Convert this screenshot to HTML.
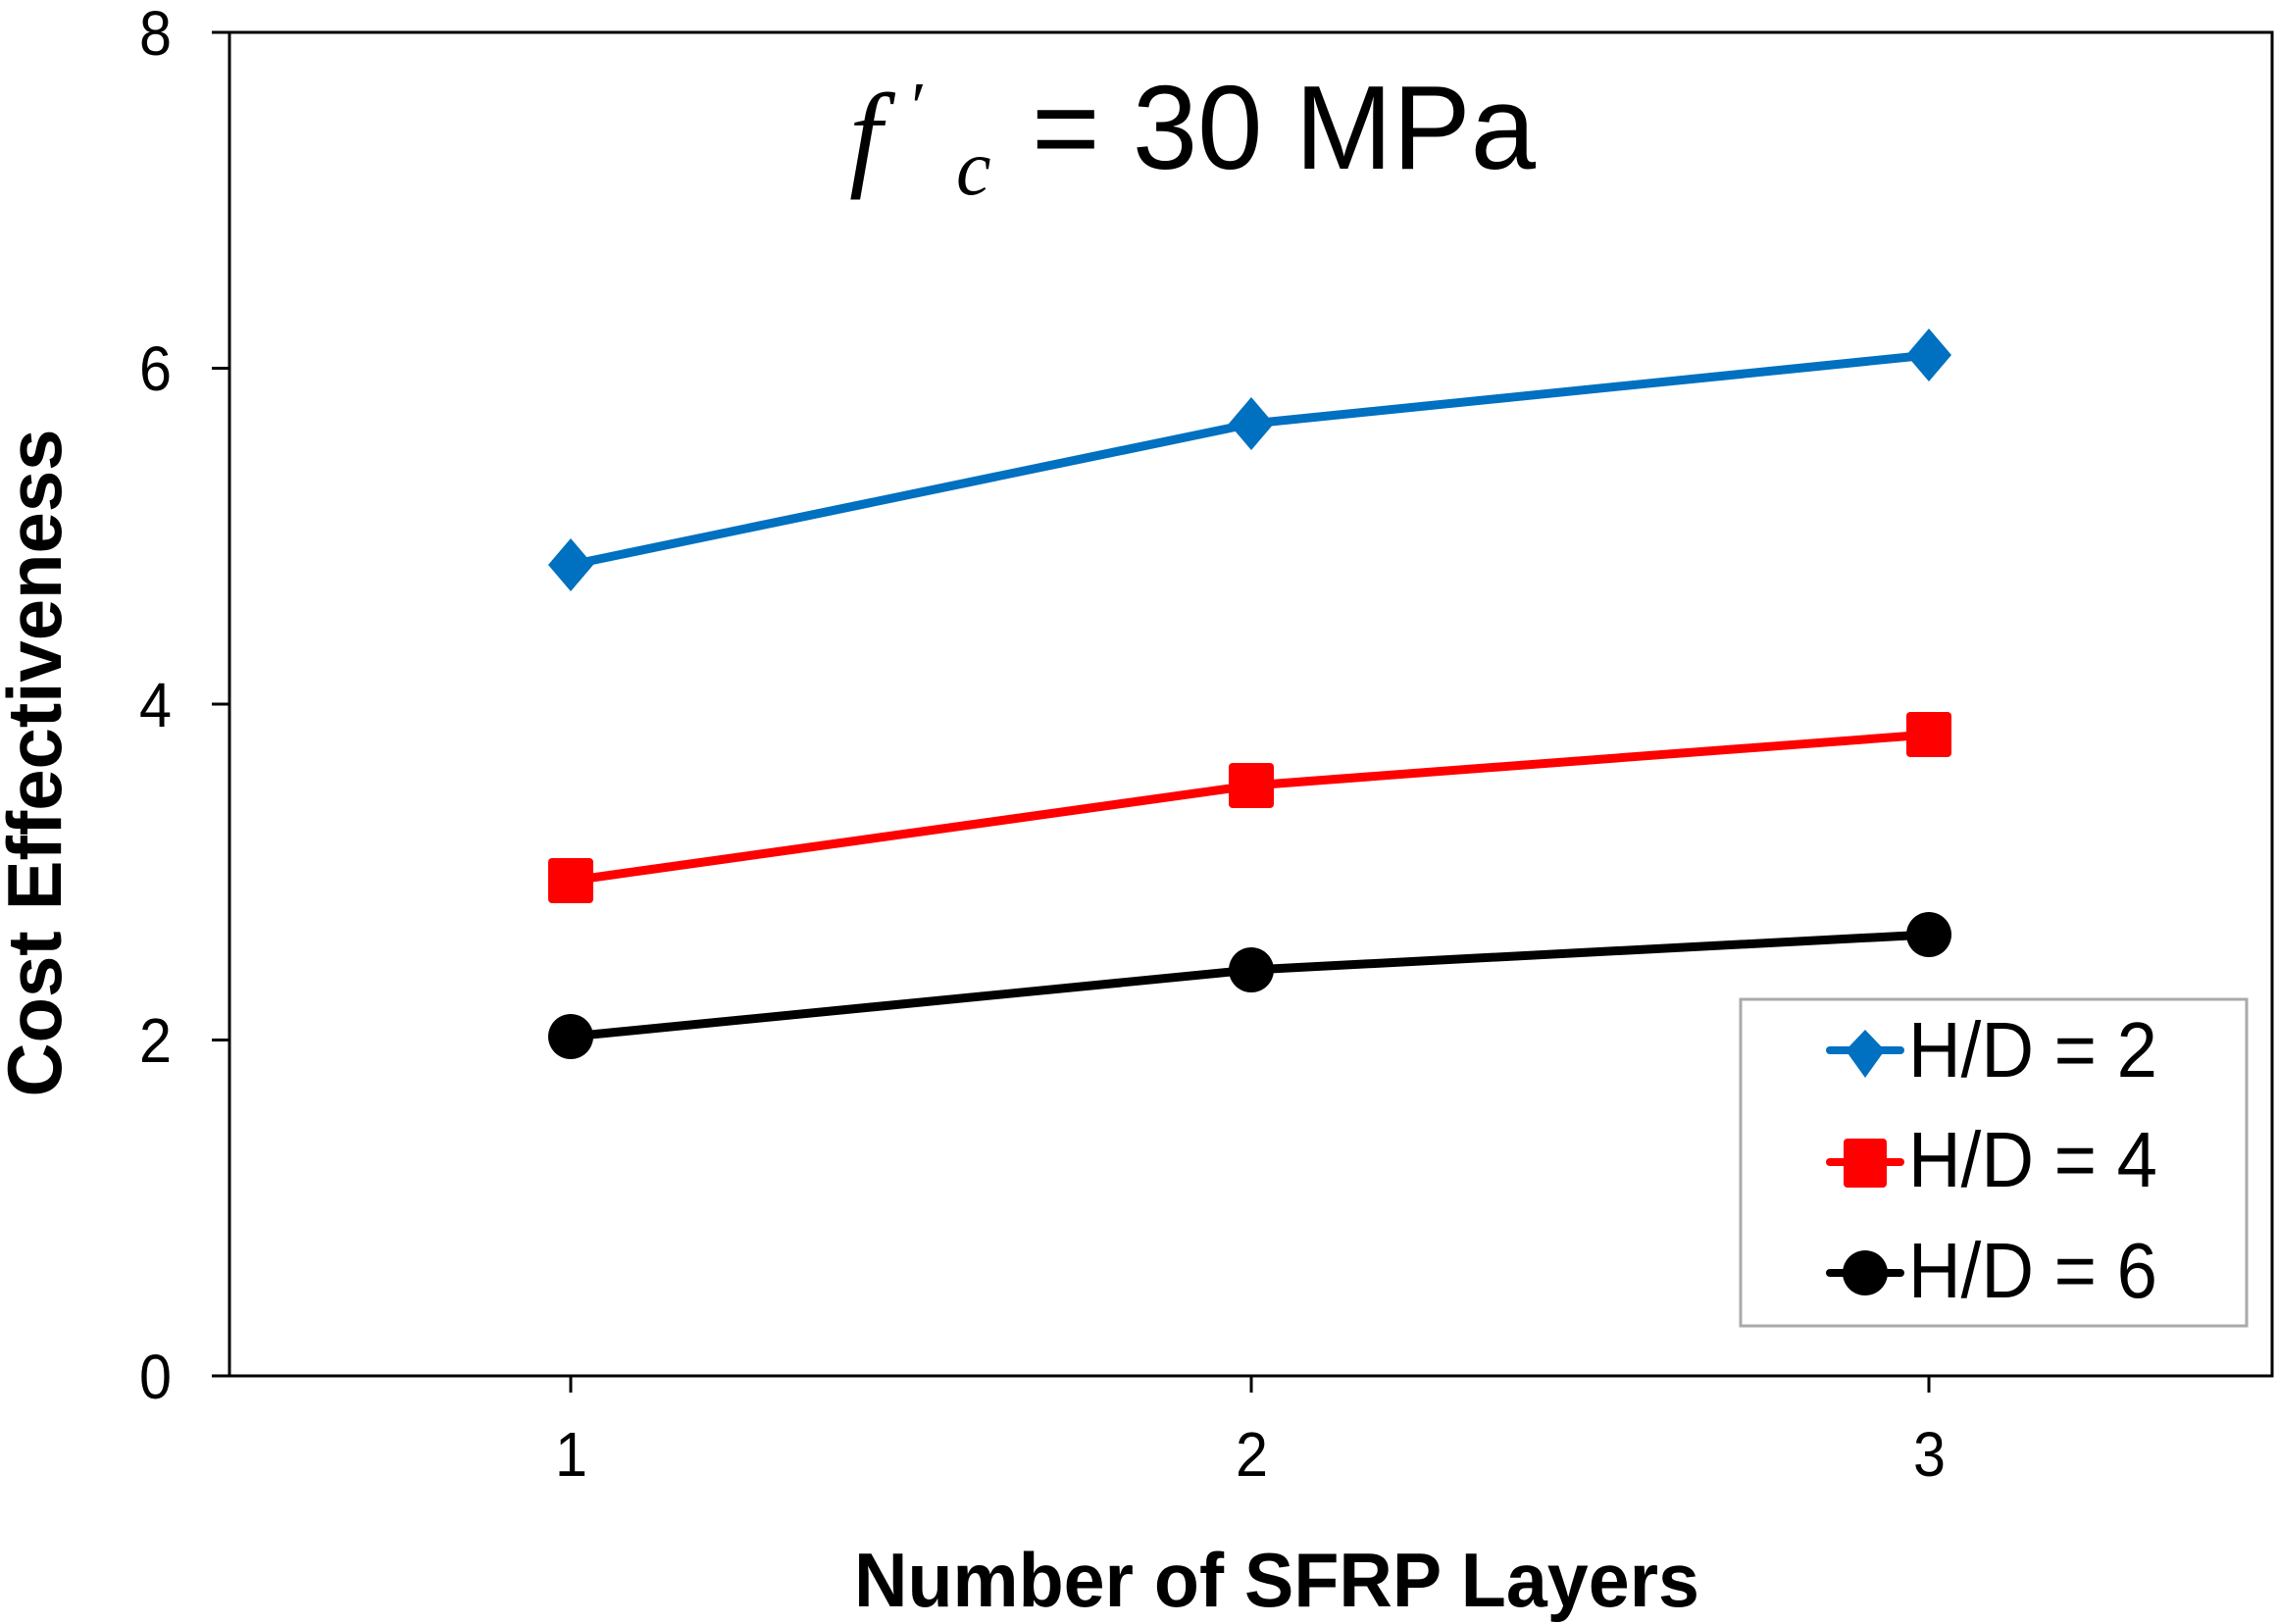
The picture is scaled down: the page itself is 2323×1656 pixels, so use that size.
<!DOCTYPE html>
<html><head><style>body{margin:0;background:#fff}svg{display:block}</style></head><body>
<svg width="2323" height="1656" viewBox="0 0 2323 1656" xmlns="http://www.w3.org/2000/svg" font-family="Liberation Sans, sans-serif">
<rect width="2323" height="1656" fill="#fff"/>
<rect x="234" y="33" width="2083" height="1370" fill="none" stroke="#000" stroke-width="3"/>
<g stroke="#000" stroke-width="3">
<line x1="216" y1="33" x2="234" y2="33"/><line x1="216" y1="375.5" x2="234" y2="375.5"/><line x1="216" y1="718" x2="234" y2="718"/><line x1="216" y1="1060.5" x2="234" y2="1060.5"/><line x1="216" y1="1403" x2="234" y2="1403"/>
<line x1="582" y1="1403" x2="582" y2="1420"/><line x1="1276" y1="1403" x2="1276" y2="1420"/><line x1="1967" y1="1403" x2="1967" y2="1420"/>
</g>
<g font-size="64" text-anchor="end" fill="#000">
<text x="175" y="56" textLength="33" lengthAdjust="spacingAndGlyphs">8</text><text x="175" y="398" textLength="33" lengthAdjust="spacingAndGlyphs">6</text><text x="175" y="741" textLength="33" lengthAdjust="spacingAndGlyphs">4</text><text x="175" y="1083" textLength="33" lengthAdjust="spacingAndGlyphs">2</text><text x="175" y="1426" textLength="33" lengthAdjust="spacingAndGlyphs">0</text>
</g>
<g font-size="64"><text x="566" y="1505" textLength="33" lengthAdjust="spacingAndGlyphs">1</text><text x="1260" y="1505" textLength="33" lengthAdjust="spacingAndGlyphs">2</text><text x="1951" y="1505" textLength="33" lengthAdjust="spacingAndGlyphs">3</text></g>
<text x="871" y="1638" font-size="78" font-weight="bold" textLength="862" lengthAdjust="spacingAndGlyphs">Number of SFRP Layers</text>
<text transform="translate(62,778) rotate(-90)" font-size="78" font-weight="bold" text-anchor="middle" textLength="681" lengthAdjust="spacingAndGlyphs">Cost Effectiveness</text>
<text x="866" y="178" font-size="120" font-family="Liberation Serif, serif" font-style="italic">f</text>
<text x="925" y="132" font-size="70" font-family="Liberation Serif, serif" font-style="italic">′</text>
<text x="975" y="198" font-size="80" font-family="Liberation Serif, serif" font-style="italic">c</text>
<text x="1052" y="172" font-size="122" textLength="514" lengthAdjust="spacingAndGlyphs">= 30 MPa</text>
<polyline points="582,576 1276,432 1967,362" fill="none" stroke="#0070C0" stroke-width="9"/>
<polyline points="582,898 1276,801 1967,749" fill="none" stroke="#FF0000" stroke-width="9"/>
<polyline points="582,1057 1276,989 1967,953" fill="none" stroke="#000" stroke-width="9"/>
<g fill="#0070C0"><path d="M582,549 L605,576 L582,603 L559,576Z"/><path d="M1276,405 L1299,432 L1276,459 L1253,432Z"/><path d="M1967,335 L1990,362 L1967,389 L1944,362Z"/></g>
<g fill="#FF0000"><rect x="559" y="875" width="46" height="46" rx="4"/><rect x="1253" y="778" width="46" height="46" rx="4"/><rect x="1944" y="726" width="46" height="46" rx="4"/></g>
<g fill="#000"><circle cx="582" cy="1057" r="23"/><circle cx="1276" cy="989" r="23"/><circle cx="1967" cy="953" r="23"/></g>
<rect x="1775" y="1019" width="516" height="333" fill="#fff" stroke="#aaa" stroke-width="3"/>
<line x1="1866" y1="1071" x2="1938" y2="1071" stroke="#0070C0" stroke-width="8" stroke-linecap="round"/>
<path d="M1902,1050 L1922,1071 L1902,1099 L1882,1071Z" fill="#0070C0"/>
<line x1="1866" y1="1185" x2="1938" y2="1185" stroke="#FF0000" stroke-width="8" stroke-linecap="round"/>
<rect x="1880" y="1161" width="44" height="50" rx="4" fill="#FF0000"/>
<line x1="1866" y1="1298" x2="1938" y2="1298" stroke="#000" stroke-width="8" stroke-linecap="round"/>
<circle cx="1902" cy="1298" r="23" fill="#000"/>
<g font-size="80"><text x="1946" y="1098" textLength="254" lengthAdjust="spacingAndGlyphs">H/D = 2</text><text x="1946" y="1210" textLength="254" lengthAdjust="spacingAndGlyphs">H/D = 4</text><text x="1946" y="1323" textLength="254" lengthAdjust="spacingAndGlyphs">H/D = 6</text></g>
</svg>
</body></html>
